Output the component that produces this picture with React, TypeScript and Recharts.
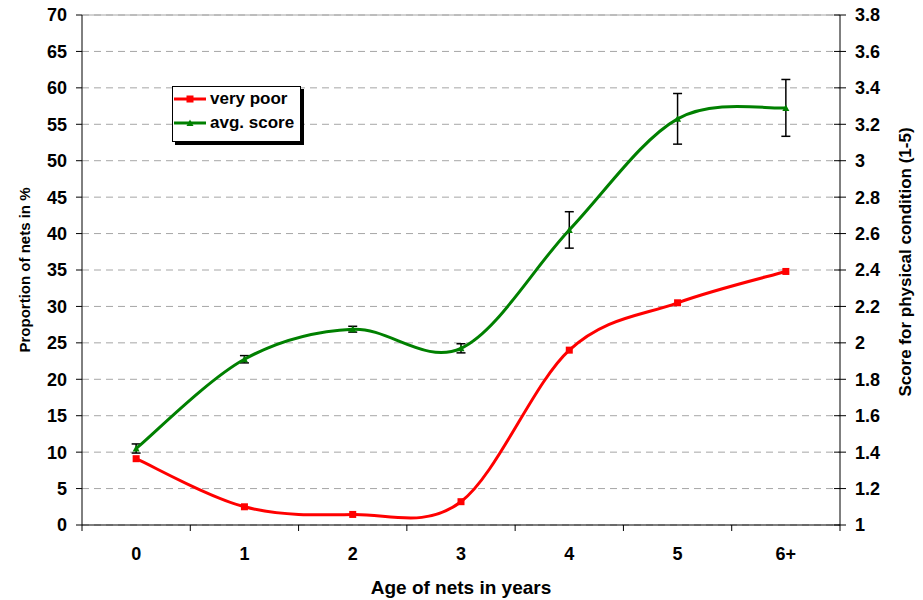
import {
  ComposedChart,
  Line,
  XAxis,
  YAxis,
  CartesianGrid,
  ErrorBar,
  ReferenceLine,
  Legend,
} from 'recharts';

// Net condition by age: share rated "very poor" (left axis, %) and mean score (right axis, 1-5)
const ages = ['0', '1', '2', '3', '4', '5', '6+'];
const veryPoor = [9.1, 2.5, 1.45, 3.2, 24.0, 30.5, 34.8];
const avgScore = [1.42, 1.91, 2.075, 1.97, 2.62, 3.23, 3.29];
const scoreErr = [0.025, 0.02, 0.016, 0.025, 0.1, 0.139, 0.156];

const pctTicks = [0, 5, 10, 15, 20, 25, 30, 35, 40, 45, 50, 55, 60, 65, 70];
const scoreTicks = [1, 1.2, 1.4, 1.6, 1.8, 2, 2.2, 2.4, 2.6, 2.8, 3, 3.2, 3.4, 3.6, 3.8];
// integer positions carry the labels, half positions the band separators
const xTicks = [-0.5, 0, 0.5, 1, 1.5, 2, 2.5, 3, 3.5, 4, 4.5, 5, 5.5, 6, 6.5];
const legendOrder = ['veryPoor', 'avgScore'];

const RED = '#ff0000';
const GREEN = '#008000';
const GRID = '#a6a6a6';
const FONT = '"Liberation Sans", Arial, sans-serif';

const data = ages.map((age, i) => ({
  pos: i,
  age,
  veryPoor: veryPoor[i],
  avgScore: avgScore[i],
  err: scoreErr[i],
}));

// Smoothed line like spreadsheet charts: Catmull-Rom segments as cubic beziers
function smoothCurve(context: any) {
  let pts: [number, number][] = [];
  return {
    areaStart() {},
    areaEnd() {},
    lineStart() {
      pts = [];
    },
    point(x: number, y: number) {
      pts.push([+x, +y]);
    },
    lineEnd() {
      if (!pts.length) return;
      context.moveTo(pts[0][0], pts[0][1]);
      for (let i = 0; i < pts.length - 1; i++) {
        const p0 = pts[Math.max(i - 1, 0)];
        const p1 = pts[i];
        const p2 = pts[i + 1];
        const p3 = pts[Math.min(i + 2, pts.length - 1)];
        context.bezierCurveTo(
          p1[0] + (p2[0] - p0[0]) / 6,
          p1[1] + (p2[1] - p0[1]) / 6,
          p2[0] - (p3[0] - p1[0]) / 6,
          p2[1] - (p3[1] - p1[1]) / 6,
          p2[0],
          p2[1],
        );
      }
    },
  };
}

const SquareDot = (props: any) => {
  const { cx, cy } = props;
  if (cx == null || cy == null) return null;
  return <rect x={cx - 3.5} y={cy - 3.5} width={7} height={7} fill={RED} />;
};

const TriangleDot = (props: any) => {
  const { cx, cy } = props;
  if (cx == null || cy == null) return null;
  return <path d={`M${cx},${cy - 3.5}L${cx + 3.5},${cy + 3}L${cx - 3.5},${cy + 3}Z`} fill={GREEN} />;
};

const XTick = (props: any) => {
  const { x, y, payload } = props;
  const v = payload.value;
  if (Number.isInteger(v)) {
    return (
      <text x={x} y={y + 35} textAnchor="middle" fontFamily={FONT} fontSize={18} fontWeight="bold" fill="#000">
        {ages[v]}
      </text>
    );
  }
  return <line x1={x} y1={y} x2={x} y2={y + 6} stroke="#000" strokeWidth={1} />;
};

const ScoreTick = (props: any) => {
  const { x, y, payload } = props;
  const label = String(Math.round(payload.value * 10) / 10);
  return (
    <g>
      <line x1={x - 6} y1={y} x2={x + 6} y2={y} stroke="#000" strokeWidth={1} />
      <text x={x + 15} y={y} dy="0.36em" textAnchor="start" fontFamily={FONT} fontSize={18} fontWeight="bold" fill="#000">
        {label}
      </text>
    </g>
  );
};

const LegendBox = (props: any) => {
  const items = [...(props.payload ?? [])].sort(
    (a: any, b: any) => legendOrder.indexOf(a.dataKey) - legendOrder.indexOf(b.dataKey),
  );
  return (
    <div
      style={{
        border: '1px solid #000',
        background: '#fff',
        boxShadow: '3px 3px 0 #000',
        padding: '0 6px 6px 1px',
        fontFamily: FONT,
        fontSize: 17,
        fontWeight: 'bold',
        color: '#000',
      }}
    >
      {items.map((it: any) => (
        <div key={it.value} style={{ display: 'flex', alignItems: 'center', height: 24 }}>
          <svg width={32} height={12} style={{ marginRight: 4 }}>
            <line x1={0} y1={6} x2={32} y2={6} stroke={it.color} strokeWidth={3} />
            {it.dataKey === 'veryPoor' ? (
              <rect x={12.5} y={2.5} width={7} height={7} fill={it.color} />
            ) : (
              <path d="M16,2.5L19.5,9L12.5,9Z" fill={it.color} />
            )}
          </svg>
          <span>{it.value}</span>
        </div>
      ))}
    </div>
  );
};

export default function App() {
  return (
    <div style={{ position: 'absolute', left: 0, top: 0, width: 923, height: 600, background: '#fff' }}>
      <ComposedChart width={923} height={600} data={data} margin={{ top: 15, right: 0, bottom: 0, left: 0 }}>
        <CartesianGrid vertical={false} stroke={GRID} strokeDasharray="7 5" yAxisId="pct" />
        <XAxis
          dataKey="pos"
          type="number"
          domain={[-0.5, 6.5]}
          ticks={xTicks}
          interval={0}
          height={75}
          tickSize={0}
          tickMargin={0}
          tickLine={false}
          tick={XTick}
          axisLine={{ stroke: '#000', strokeWidth: 1 }}
          label={{
            value: 'Age of nets in years',
            position: 'insideBottom',
            offset: 6,
            style: { fontFamily: FONT, fontSize: 19, fontWeight: 'bold', fill: '#000' },
          }}
        />
        <YAxis
          yAxisId="pct"
          orientation="left"
          domain={[0, 70]}
          ticks={pctTicks}
          interval={0}
          width={82}
          tickSize={6}
          tickMargin={9}
          tickLine={{ stroke: '#000' }}
          axisLine={{ stroke: '#000', strokeWidth: 1 }}
          tick={{ fontFamily: FONT, fontSize: 18, fontWeight: 'bold', fill: '#000' }}
          label={{
            value: 'Proportion of nets in %',
            angle: -90,
            position: 'insideLeft',
            offset: 25,
            style: { textAnchor: 'middle', fontFamily: FONT, fontSize: 15, fontWeight: 'bold', fill: '#000' },
          }}
        />
        <YAxis
          yAxisId="score"
          orientation="right"
          domain={[1, 3.8]}
          ticks={scoreTicks}
          interval={0}
          width={83}
          tickSize={0}
          tickMargin={0}
          tickLine={false}
          axisLine={{ stroke: '#000', strokeWidth: 1 }}
          tick={ScoreTick}
          label={{
            value: 'Score for physical condition (1-5)',
            angle: -90,
            position: 'insideRight',
            offset: 18,
            dy: -8,
            style: { textAnchor: 'middle', fontFamily: FONT, fontSize: 17, fontWeight: 'bold', fill: '#000' },
          }}
        />
        <ReferenceLine yAxisId="pct" y={70} stroke={GRID} strokeWidth={1} />
        <Legend
          layout="vertical"
          align="center"
          verticalAlign="middle"
          wrapperStyle={{ left: 172, top: 86, width: 'auto' }}
          content={LegendBox}
        />
        <Line
          yAxisId="pct"
          dataKey="veryPoor"
          name="very poor"
          type={smoothCurve as any}
          stroke={RED}
          strokeWidth={3}
          dot={SquareDot}
          activeDot={false}
          isAnimationActive={false}
        />
        <Line
          yAxisId="score"
          dataKey="avgScore"
          name="avg. score"
          type={smoothCurve as any}
          stroke={GREEN}
          strokeWidth={3}
          dot={TriangleDot}
          activeDot={false}
          isAnimationActive={false}
        >
          <ErrorBar dataKey="err" direction="y" width={4.5} stroke="#000" strokeWidth={1.5} isAnimationActive={false} />
        </Line>
      </ComposedChart>
    </div>
  );
}
